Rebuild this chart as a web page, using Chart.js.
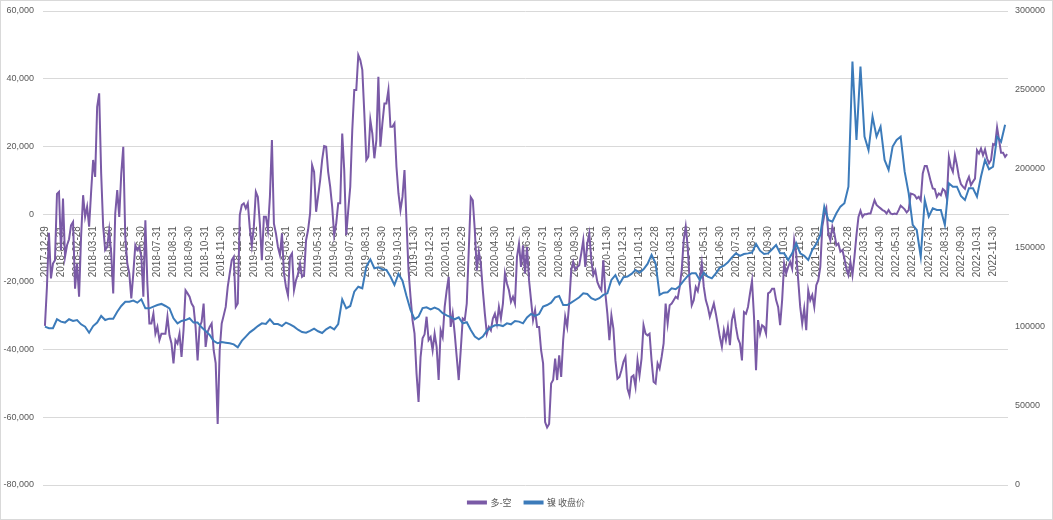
<!DOCTYPE html>
<html lang="zh-CN">
<head>
  <meta charset="UTF-8">
  <title>多-空 与 镍 收盘价</title>
  <script src="https://cdn.jsdelivr.net/npm/chart.js"></script>
  <style>
    html, body { margin: 0; padding: 0; background: #fff; }
    .wrap { position: relative; width: 1053px; height: 520px; }
    .wrap::after { content: ''; position: absolute; left: 0; top: 0; right: 0; bottom: 0; border: 1px solid #d9d9d9; pointer-events: none; }
  </style>
</head>
<body>
  <div class="wrap"><canvas id="chart" width="1053" height="520"></canvas></div>

  <script>
    // month-end labels on the date axis
    const monthLabels = [
      '2017-12-29', '2018-01-31', '2018-02-28', '2018-03-31', '2018-04-30', '2018-05-31', '2018-06-30', '2018-07-31', '2018-08-31', '2018-09-30', '2018-10-31', '2018-11-30',
      '2018-12-31', '2019-01-31', '2019-02-28', '2019-03-31', '2019-04-30', '2019-05-31', '2019-06-30', '2019-07-31', '2019-08-31', '2019-09-30', '2019-10-31', '2019-11-30',
      '2019-12-31', '2020-01-31', '2020-02-29', '2020-03-31', '2020-04-30', '2020-05-31', '2020-06-30', '2020-07-31', '2020-08-31', '2020-09-30', '2020-10-31', '2020-11-30',
      '2020-12-31', '2021-01-31', '2021-02-28', '2021-03-31', '2021-04-30', '2021-05-31', '2021-06-30', '2021-07-31', '2021-08-31', '2021-09-30', '2021-10-31', '2021-11-30',
      '2021-12-31', '2022-01-31', '2022-02-28', '2022-03-31', '2022-04-30', '2022-05-31', '2022-06-30', '2022-07-31', '2022-08-31', '2022-09-30', '2022-10-31', '2022-11-30'
    ];

    // readings per month, both series start 2017-12-29
    const netPerMonth = 8;
    const closePerMonth = 4;

    // 多-空 (left axis)
    const netPosition = [
      -33000, -21500, -5500, -19000, -14600, -13600, 6000, 6600, -10600, 4600, -12600, -9200, -7400, -3300, -2300, -22000,
      -14600, -24400, -6700, 5600, -800, 2200, -3700, 6600, 16000, 11000, 31700, 35700, 12000, -3700, -10600, -9700,
      -4700, -11600, -23400, 200, 7100, -800, 12000, 19900, -6700, -14600, -17500, -24900, -17500, -9200, -10600, -9700,
      -12600, -24400, -1800, -20500, -32300, -32300, -29400, -35300, -33300, -37200, -35300, -35300, -35300, -30300, -35800, -38200,
      -44100, -37200, -38200, -35300, -42200, -34300, -22500, -23400, -24400, -26400, -27400, -33300, -43200, -33300, -31800, -26400,
      -39200, -34800, -33300, -32300, -40200, -44000, -62000, -40200, -32300, -29900, -27400, -21500, -17500, -13600, -12600, -27400,
      -26400, -300, 2700, 3200, 1700, 3200, -4200, -9200, -3700, 6600, 5100, -2800, -13600, -800, -800, -4700,
      5100, 21900, -2800, -5700, -9700, -12100, -5700, -17500, -21500, -24000, -12600, -11600, -22500, -19500, -17700, -14600,
      -18500, -18000, -7700, -4700, 200, 14500, 12500, 700, 5300, 10000, 16000, 20100, 19900, 12500, 8100, 2200,
      -6200, -2800, 3200, 3200, 23800, 13000, -6200, 1200, 8100, 24800, 36700, 36700, 47000, 45500, 42600, 29800,
      16000, 17000, 27800, 23800, 16500, 21900, 40600, 19900, 26800, 32700, 32700, 36700, 25800, 25800, 26800, 14000,
      6100, 1200, 5100, 13000, -2300, -16600, -24400, -31300, -35300, -47100, -55500, -42200, -36700, -35500, -30300, -37200,
      -36300, -40200, -35300, -39200, -49000, -34300, -36300, -27400, -22500, -18500, -33300, -29400, -35300, -42200, -49000, -40200,
      -30800, -31300, -26400, -10600, 5000, 4100, -4700, -16600, -11100, -14600, -22500, -29400, -35300, -33300, -34300, -30800,
      -29400, -32300, -27400, -30800, -26400, -17500, -20500, -22500, -25900, -24400, -26400, -12600, -8700, -15600, -9200, -17500,
      -9700, -19500, -25400, -31300, -28400, -33300, -33300, -40200, -44100, -61400, -63000, -62000, -50000, -49000, -42700, -49000,
      -41700, -48100, -37200, -30300, -33300, -26400, -16600, -14100, -16400, -15600, -15100, -11600, -7700, -15600, -8700, -5700,
      -13600, -18000, -16600, -20000, -21500, -22500, -13600, -23400, -29400, -37200, -29900, -33800, -43200, -48600, -48100, -46100,
      -43600, -42200, -51500, -53500, -48100, -47600, -51000, -43200, -47600, -42700, -32800, -35300, -35800, -35300, -43200, -49500,
      -50000, -44100, -45600, -42200, -38200, -26400, -32300, -26900, -26400, -25400, -24400, -24900, -21500, -16600, -7700, -3700,
      -9700, -20500, -26900, -25400, -21500, -22700, -19500, -14600, -21500, -25400, -27400, -30300, -28400, -26400, -29400, -32800,
      -36300, -39200, -34300, -37200, -33300, -38700, -31300, -28900, -33300, -36700, -38200, -43200, -28900, -29400, -27400, -23400,
      -19700, -30300, -46100, -31300, -35300, -32800, -33300, -35300, -23400, -23000, -22000, -22000, -25400, -27400, -32800, -25400,
      -14600, -17500, -15600, -14100, -16100, -7700, -11600, -19500, -27400, -32300, -27900, -34300, -22500, -25400, -23900, -27400,
      -21000, -19500, -15600, -3700, -300, 1700, -5700, -7700, -3700, -5700, -9200, -8700, -11100, -10600, -13100, -16100,
      -18000, -14100, -18000, -12600, -6200, -800, 1000, -800, 0, 0, 200, 200, 2200, 4100, 2700, 2200,
      1700, 1200, 900, 200, 1200, 200, 0, 200, 0, 1200, 2500, 2000, 1400, 500, 1200, 6100,
      5900, 5600, 4600, 5100, 4100, 12000, 14200, 14200, 12000, 9600, 7600, 7400, 5100, 6100, 5600, 7400,
      6900, 4600, 16900, 14000, 12500, 17400, 14500, 11000, 8900, 8100, 7500, 9600, 11000, 8600, 9600, 10500,
      18900, 17900, 19400, 17400, 19100, 16500, 15000, 16000, 20700, 20400, 25600, 21900, 18100, 18100, 16900, 17700
    ];

    // 镍 收盘价 (right axis)
    const nickelClose = [
      100200, 99200, 99200, 104900, 103400, 102800, 104900, 103800, 104400, 101700, 100200, 96400, 100600, 102800, 107000, 104400,
      105300, 105300, 109700, 113300, 116000, 116000, 116700, 115400, 117500, 111800, 111800, 112900, 113900, 114600, 113300, 111800,
      105500, 102300, 103800, 104400, 105500, 102800, 102800, 99800, 97500, 95000, 91200, 89700, 90500, 90100, 89700, 89000,
      87100, 91200, 93900, 96600, 98500, 100600, 102300, 101900, 104900, 101900, 101900, 100600, 102800,
      101700, 100200, 98300, 96800, 96400, 97500, 99000, 97300, 96200, 98500, 100000, 98500, 101900, 117500, 111800, 113300,
      122400, 125500, 124500, 138200, 142800, 137200, 137800, 136500, 136100, 131900, 126600, 133600, 129300, 119600, 110800, 104900,
      106600, 112000, 112500, 111200, 112300, 111200, 108700, 107400, 106300, 104900, 106100, 102300, 103000, 98100, 93900, 92200,
      93900, 97700, 99800, 101100, 101300, 100600, 102300, 101700, 103800, 103400, 102300, 106100, 108200,
      107000, 108200, 112900, 113900, 115400, 118800, 119600, 113900, 113900, 115400, 117100, 118800, 121300, 120900, 118200, 117100,
      118200, 120300, 121300, 129800, 132900, 127200, 131500, 131900, 133600, 136100, 134400, 136500, 139900, 145600, 140300, 120300,
      121700, 122000, 124500, 123900, 126000, 129300, 132300, 134000, 134000, 129800, 134400, 131900, 130800, 134000, 137600, 138800,
      140900, 144100, 146600, 145000, 146200, 146600, 147100, 152600, 148300, 146200, 146600, 149200, 151900,
      146600, 146600, 142400, 146600, 153000, 146600, 145000, 142400, 148800, 152600, 158300, 176200, 167700, 166700, 172000, 176200,
      178300, 188800, 268000, 218400, 264800, 220500, 212000, 233200, 220500, 226800, 205700, 199400, 214200, 218400, 220500, 198300,
      184600, 164600, 161400, 144500, 180400, 169900, 175100, 174100, 174100, 164600, 191000, 188800, 188800, 182900, 180400, 187800,
      187800, 182500, 195200, 205700, 199800, 201500, 220500, 217300, 228000
    ];

    const leftTicks = [-80000, -60000, -40000, -20000, 0, 20000, 40000, 60000];
    const rightTicks = [0, 50000, 100000, 150000, 200000, 250000, 300000];

    const toPoints = (arr, perMonth) => arr.map((v, i) => ({ x: i / perMonth, y: v }));

    const grey = '#595959';
    const tickFont = { family: "'Liberation Sans', Arial, sans-serif", size: 9 };

    const ctx = document.getElementById('chart').getContext('2d');
    new Chart(ctx, {
      type: 'line',
      data: {
        datasets: [
          {
            label: '多-空',
            data: toPoints(netPosition, netPerMonth),
            yAxisID: 'y',
            borderColor: '#7A5AA6',
            backgroundColor: '#7A5AA6',
            borderWidth: 2,
            pointRadius: 0,
            order: 1
          },
          {
            label: '镍 收盘价',
            data: toPoints(nickelClose, closePerMonth),
            yAxisID: 'y1',
            borderColor: '#3C7BBA',
            backgroundColor: '#3C7BBA',
            borderWidth: 2,
            pointRadius: 0,
            order: 0
          }
        ]
      },
      options: {
        responsive: false,
        animation: false,
        layout: { padding: { top: 11, right: 0, bottom: 3, left: 0 } },
        plugins: {
          legend: {
            position: 'bottom',
            labels: {
              boxWidth: 18,
              boxHeight: 2,
              padding: 13,
              color: grey,
              font: { family: "'Noto Sans CJK SC', sans-serif", size: 9 },
              sort: (a, b) => a.datasetIndex - b.datasetIndex
            }
          },
          tooltip: { enabled: false }
        },
        scales: {
          x: {
            type: 'linear',
            position: { y: 0 },
            min: -0.12,
            max: 59.93,
            grid: { display: false },
            border: { color: '#d9d9d9' },
            afterBuildTicks: scale => {
              scale.ticks = monthLabels.map((_, i) => ({ value: i }));
            },
            ticks: {
              autoSkip: false,
              minRotation: 90,
              maxRotation: 90,
              padding: 4,
              color: grey,
              font: { family: "'Liberation Sans', Arial, sans-serif", size: 10 },
              callback: value => monthLabels[value]
            }
          },
          y: {
            position: 'left',
            min: -80000,
            max: 60000,
            afterBuildTicks: scale => {
              scale.ticks = leftTicks.map(v => ({ value: v }));
            },
            afterFit: scale => { scale.width = 43; },
            // invisible tick marks keep the labels off the plot without extra top padding
            grid: { color: '#d9d9d9', drawTicks: true, tickLength: 9, tickColor: 'rgba(0,0,0,0)' },
            border: { display: false },
            ticks: {
              padding: 0,
              color: grey,
              font: tickFont,
              callback: value => value.toLocaleString('en-US')
            }
          },
          y1: {
            position: 'right',
            min: 0,
            max: 300000,
            afterBuildTicks: scale => {
              scale.ticks = rightTicks.map(v => ({ value: v }));
            },
            afterFit: scale => { scale.width = 45; },
            grid: { drawOnChartArea: false, drawTicks: true, tickLength: 7, tickColor: 'rgba(0,0,0,0)' },
            border: { display: false },
            ticks: {
              padding: 0,
              color: grey,
              font: tickFont,
              callback: value => String(value)
            }
          }
        }
      }
    });
  </script>
</body>
</html>
